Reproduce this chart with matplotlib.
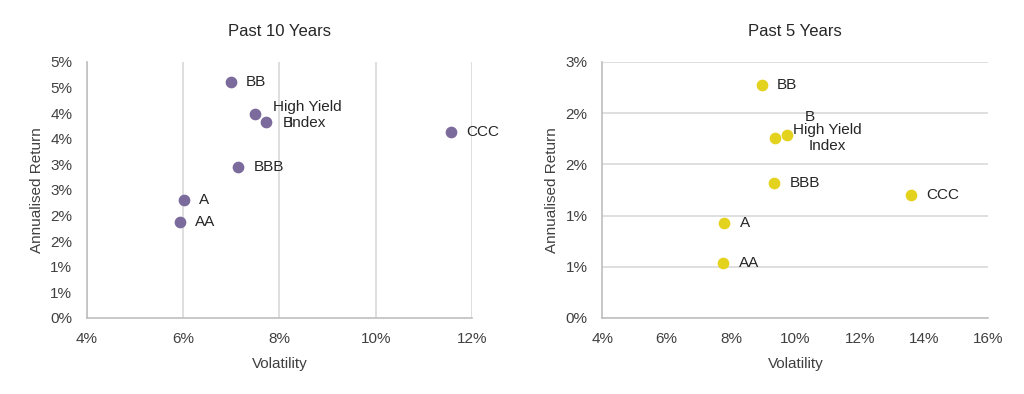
import matplotlib.pyplot as plt
from matplotlib.ticker import FixedLocator, FixedFormatter

plt.rcParams['font.family'] = ['Liberation Sans', 'DejaVu Sans']

# Past 10 years: volatility (%) and annualised return (%)
names_10 = ['BB', 'High Yield\nIndex', 'B', 'CCC', 'BBB', 'A', 'AA']
vol_10 = [6.99, 7.49, 7.73, 11.57, 7.15, 6.01, 5.93]
ret_10 = [4.61, 3.99, 3.83, 3.63, 2.95, 2.31, 1.88]

# Past 5 years
names_5 = ['BB', 'High Yield\nIndex', 'B', 'BBB', 'CCC', 'A', 'AA']
vol_5 = [8.95, 9.38, 9.73, 9.35, 13.59, 7.79, 7.76]
ret_5 = [2.73, 2.11, 2.14, 1.585, 1.445, 1.11, 0.643]

yticks_10 = [0, 0.5, 1, 1.5, 2, 2.5, 3, 3.5, 4, 4.5, 5]
ylabels_10 = ['0%', '1%', '1%', '2%', '2%', '3%', '3%', '4%', '4%', '5%', '5%']
xticks_10 = [4, 6, 8, 10, 12]

yticks_5 = [0, 0.6, 1.2, 1.8, 2.4, 3.0]
ylabels_5 = ['0%', '1%', '1%', '2%', '2%', '3%']
xticks_5 = [4, 6, 8, 10, 12, 14, 16]

purple = '#7b6a9c'
yellow = '#e3d31f'
text_c = '#262626'
tick_c = '#404040'
grid_c = '#d9d9d9'

fig = plt.figure(figsize=(10.24, 3.94), dpi=100)
ax1 = fig.add_axes([0.0847, 0.193, 0.3763, 0.65])
ax2 = fig.add_axes([0.5882, 0.193, 0.377, 0.65])


def style(ax, xticks, yticks, ylabels, title, grid_axis):
    for s in ['top', 'right']:
        ax.spines[s].set_visible(False)
    for s in ['left', 'bottom']:
        ax.spines[s].set_color('#bfbfbf')
        ax.spines[s].set_linewidth(1.2)
    ax.set_xlim(xticks[0], xticks[-1])
    ax.set_ylim(yticks[0], yticks[-1])
    ax.xaxis.set_major_locator(FixedLocator(xticks))
    ax.xaxis.set_major_formatter(FixedFormatter(['%d%%' % v for v in xticks]))
    ax.yaxis.set_major_locator(FixedLocator(yticks))
    ax.yaxis.set_major_formatter(FixedFormatter(ylabels))
    ax.tick_params(axis='x', length=0, labelsize=11, colors=tick_c, pad=10)
    ax.tick_params(axis='y', length=0, labelsize=11, colors=tick_c, pad=10.5)
    ax.grid(True, axis=grid_axis, color=grid_c, linewidth=1.2)
    ax.set_axisbelow(True)
    ax.set_xlabel('Volatility', fontsize=11, color=tick_c, labelpad=8)
    ax.set_ylabel('Annualised Return', fontsize=11, color=tick_c, labelpad=4.5)
    ax.set_title(title, fontsize=12, color=text_c, pad=18.5)


style(ax1, xticks_10, yticks_10, ylabels_10, 'Past 10 Years', 'x')
style(ax2, xticks_5, yticks_5, ylabels_5, 'Past 5 Years', 'y')

ax1.scatter(vol_10, ret_10, s=55, color=purple, zorder=3, clip_on=False)
ax2.scatter(vol_5, ret_5, s=55, color=yellow, zorder=3, clip_on=False)

# data labels (offsets in points)
for n, x, y in zip(names_10, vol_10, ret_10):
    if n == 'High Yield\nIndex':
        ax1.annotate(n, (x, y), xytext=(13, -1), textcoords='offset points',
                     fontsize=11, color=text_c, ha='left', va='center',
                     multialignment='center', linespacing=1.15)
    elif n == 'B':
        ax1.annotate(n, (x, y), xytext=(12, -1), textcoords='offset points',
                     fontsize=11, color=text_c, ha='left', va='center')
    else:
        ax1.annotate(n, (x, y), xytext=(11, 0), textcoords='offset points',
                     fontsize=11, color=text_c, ha='left', va='center')

for n, x, y in zip(names_5, vol_5, ret_5):
    if n == 'High Yield\nIndex':
        ax2.annotate(n, (x, y), xytext=(13, 0), textcoords='offset points',
                     fontsize=11, color=text_c, ha='left', va='center',
                     multialignment='center', linespacing=1.15)
    elif n == 'B':
        ax2.annotate(n, (x, y), xytext=(13, 13), textcoords='offset points',
                     fontsize=11, color=text_c, ha='left', va='center')
    else:
        ax2.annotate(n, (x, y), xytext=(11, 0), textcoords='offset points',
                     fontsize=11, color=text_c, ha='left', va='center')

fig.savefig('out.png', dpi=100)
